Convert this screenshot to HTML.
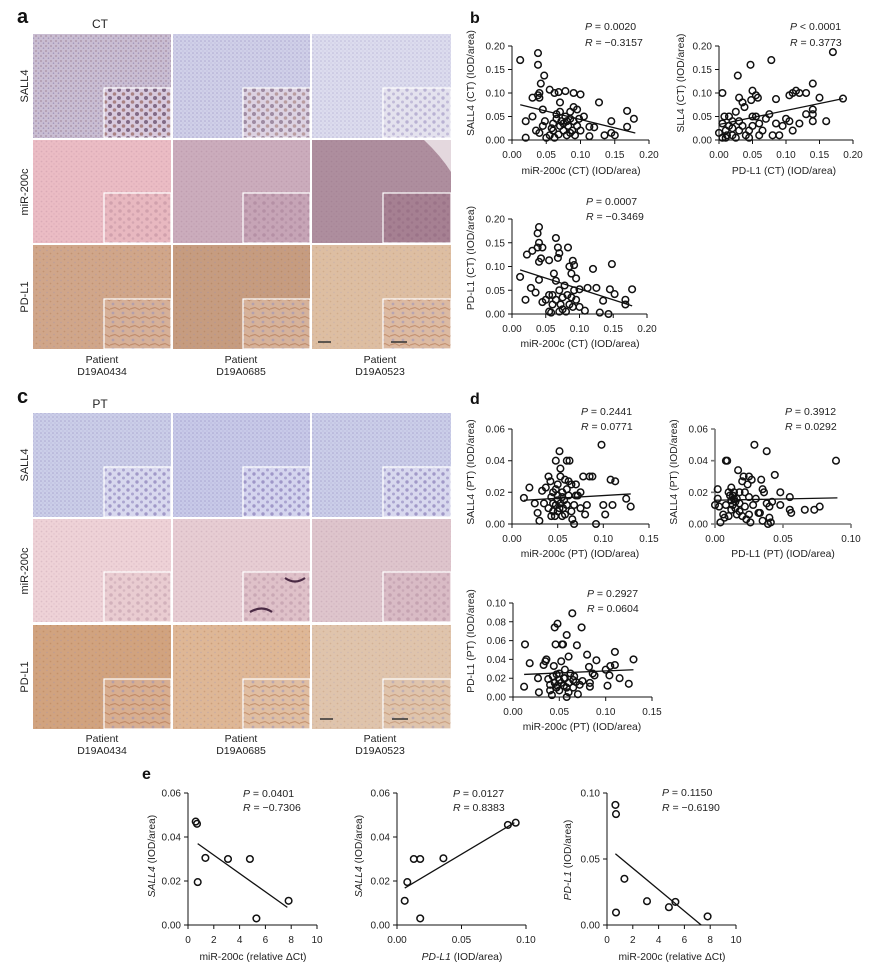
<!DOCTYPE html>
<html><head><meta charset="utf-8"><style>
html,body{margin:0;padding:0;background:#fff;}
svg{display:block;font-family:"Liberation Sans",Arial,sans-serif;}
.t{font-size:10px;fill:#222;}
.ti{font-size:10.3px;fill:#222;}
.pr{font-size:10.5px;fill:#222;}
.ax{fill:none;stroke:#111;stroke-width:1;}
.cell{stroke:none;}
.ins{stroke:#fff;stroke-width:1.2;}
</style></head><body>
<svg id="s" width="880" height="973" viewBox="0 0 880 973" xmlns="http://www.w3.org/2000/svg">
<defs>
<pattern id="pS" width="4" height="4" patternUnits="userSpaceOnUse"><circle cx="1" cy="1" r="0.8" fill="#5e4e96" opacity="0.3"/><circle cx="3" cy="3" r="0.6" fill="#5e4e96" opacity="0.2"/></pattern>
<pattern id="pSb" width="5" height="5" patternUnits="userSpaceOnUse"><circle cx="1" cy="1" r="0.9" fill="#6a3e4e" opacity="0.35"/><circle cx="3.5" cy="3.2" r="0.8" fill="#4e3e86" opacity="0.3"/></pattern>
<pattern id="pSi" width="9" height="8" patternUnits="userSpaceOnUse"><circle cx="2" cy="2" r="1.7" fill="#6a5aa2" opacity="0.5"/><circle cx="6.5" cy="6" r="1.5" fill="#6a5aa2" opacity="0.4"/></pattern>
<pattern id="pSib" width="9" height="8" patternUnits="userSpaceOnUse"><circle cx="2" cy="2" r="2" fill="#4a2a4a" opacity="0.6"/><circle cx="6.5" cy="6" r="1.8" fill="#7a3a2a" opacity="0.5"/></pattern>
<pattern id="pB" width="7" height="6" patternUnits="userSpaceOnUse"><circle cx="1.5" cy="1.5" r="0.9" fill="#9a5a2a" opacity="0.25"/><circle cx="5" cy="4.5" r="0.7" fill="#8888c0" opacity="0.3"/></pattern>
<pattern id="pBi" width="10" height="9" patternUnits="userSpaceOnUse"><path d="M0 3 L5 1.5 L10 4" stroke="#9a4e1e" stroke-width="1.2" fill="none" opacity="0.35"/><circle cx="3" cy="7" r="1.4" fill="#8a8ac4" opacity="0.45"/></pattern>
<pattern id="pM" width="5" height="5" patternUnits="userSpaceOnUse"><circle cx="1.5" cy="1.5" r="0.9" fill="#7a4a6a" opacity="0.15"/><circle cx="4" cy="4" r="0.7" fill="#7a4a6a" opacity="0.12"/></pattern>
<pattern id="pMi" width="9" height="8" patternUnits="userSpaceOnUse"><circle cx="3" cy="3" r="1.8" fill="#6a3a5a" opacity="0.18"/><circle cx="7" cy="6.5" r="1.3" fill="#6a3a5a" opacity="0.15"/></pattern>
</defs>

<!-- Panel letters -->
<text x="17" y="23" style="font-size:20px;font-weight:bold;fill:#111">a</text>
<text x="470" y="23" style="font-size:16px;font-weight:bold;fill:#111">b</text>
<text x="17" y="403" style="font-size:20px;font-weight:bold;fill:#111">c</text>
<text x="470" y="404" style="font-size:16px;font-weight:bold;fill:#111">d</text>
<text x="142" y="779" style="font-size:16px;font-weight:bold;fill:#111">e</text>

<text x="100" y="28" text-anchor="middle" style="font-size:12px;fill:#222">CT</text>
<text x="100" y="408" text-anchor="middle" style="font-size:12px;fill:#222">PT</text>

<!-- CT grid -->
<g>
<rect class="cell" x="33" y="34" width="138" height="104" fill="#c9bdd2"/><rect x="33" y="34" width="138" height="104" fill="url(#pSb)"/>
<rect class="ins" x="104" y="88" width="67" height="50" fill="#d8cade"/><rect x="104.6" y="88.6" width="66" height="49" fill="url(#pSib)"/>
<rect class="cell" x="173" y="34" width="137" height="104" fill="#d0d0e8"/><rect x="173" y="34" width="137" height="104" fill="url(#pS)"/>
<rect class="ins" x="243" y="88" width="67" height="50" fill="#dcd2e2"/><rect x="243.6" y="88.6" width="66" height="49" fill="url(#pSib)" opacity="0.7"/>
<rect class="cell" x="312" y="34" width="139" height="104" fill="#dcdcee"/><rect x="312" y="34" width="139" height="104" fill="url(#pS)" opacity="0.8"/>
<rect class="ins" x="383" y="88" width="68" height="50" fill="#e4e2ee"/><rect x="383.6" y="88.6" width="67" height="49" fill="url(#pSi)" opacity="0.7"/>

<rect class="cell" x="33" y="140" width="138" height="103" fill="#ebbcc4"/><rect x="33" y="140" width="138" height="103" fill="url(#pM)"/>
<rect class="ins" x="104" y="193" width="67" height="50" fill="#e8b8c0"/><rect x="104.6" y="193.6" width="66" height="49" fill="url(#pMi)"/>
<rect class="cell" x="173" y="140" width="137" height="103" fill="#cbacbc"/><rect x="173" y="140" width="137" height="103" fill="url(#pM)"/>
<rect class="ins" x="243" y="193" width="67" height="50" fill="#c6a4b6"/><rect x="243.6" y="193.6" width="66" height="49" fill="url(#pMi)"/>
<rect class="cell" x="312" y="140" width="139" height="103" fill="#ae8e9e"/><rect x="312" y="140" width="139" height="103" fill="url(#pM)"/>
<path d="M424 140 L451 140 L451 172 Q441 156 424 140Z" fill="#e4d8de"/>
<rect class="ins" x="383" y="193" width="68" height="50" fill="#a68092"/><rect x="383.6" y="193.6" width="67" height="49" fill="url(#pMi)"/>

<rect class="cell" x="33" y="245" width="138" height="104" fill="#d0a68a"/><rect x="33" y="245" width="138" height="104" fill="url(#pB)"/>
<rect class="ins" x="104" y="299" width="67" height="50" fill="#d6b098"/><rect x="104.6" y="299.6" width="66" height="49" fill="url(#pBi)"/>
<rect class="cell" x="173" y="245" width="137" height="104" fill="#c69c80"/><rect x="173" y="245" width="137" height="104" fill="url(#pB)"/>
<rect class="ins" x="243" y="299" width="67" height="50" fill="#d6b29a"/><rect x="243.6" y="299.6" width="66" height="49" fill="url(#pBi)"/>
<rect class="cell" x="312" y="245" width="139" height="104" fill="#ddbea2"/><rect x="312" y="245" width="139" height="104" fill="url(#pB)" opacity="0.7"/>
<rect class="ins" x="383" y="299" width="68" height="50" fill="#dcbaa2"/><rect x="383.6" y="299.6" width="67" height="49" fill="url(#pBi)"/>
<path d="M318 342H331 M391 342H407" stroke="#333" stroke-width="1.6"/>
</g>

<!-- PT grid -->
<g>
<rect class="cell" x="33" y="413" width="138" height="104" fill="#cbcee8"/><rect x="33" y="413" width="138" height="104" fill="url(#pS)"/>
<rect class="ins" x="104" y="467" width="67" height="50" fill="#d8d8ee"/><rect x="104.6" y="467.6" width="66" height="49" fill="url(#pSi)"/>
<rect class="cell" x="173" y="413" width="137" height="104" fill="#c8cae8"/><rect x="173" y="413" width="137" height="104" fill="url(#pS)"/>
<rect class="ins" x="243" y="467" width="67" height="50" fill="#d4d4ee"/><rect x="243.6" y="467.6" width="66" height="49" fill="url(#pSi)"/>
<rect class="cell" x="312" y="413" width="139" height="104" fill="#cbcee9"/><rect x="312" y="413" width="139" height="104" fill="url(#pS)"/>
<rect class="ins" x="383" y="467" width="68" height="50" fill="#d8d8ee"/><rect x="383.6" y="467.6" width="67" height="49" fill="url(#pSi)"/>

<rect class="cell" x="33" y="519" width="138" height="103" fill="#eed2d7"/><rect x="33" y="519" width="138" height="103" fill="url(#pM)"/>
<rect class="ins" x="104" y="572" width="67" height="50" fill="#e9ccd1"/><rect x="104.6" y="572.6" width="66" height="49" fill="url(#pMi)"/>
<rect class="cell" x="173" y="519" width="137" height="103" fill="#e7cdd3"/><rect x="173" y="519" width="137" height="103" fill="url(#pM)"/>
<rect class="ins" x="243" y="572" width="67" height="50" fill="#dfc1c9"/><rect x="243.6" y="572.6" width="66" height="49" fill="url(#pMi)"/>
<path d="M250 612 Q262 605 272 612 M285 578 Q295 585 305 578" stroke="#4a2a44" stroke-width="2.2" fill="none"/>
<rect class="cell" x="312" y="519" width="139" height="103" fill="#dec5cc"/><rect x="312" y="519" width="139" height="103" fill="url(#pM)"/>
<rect class="ins" x="383" y="572" width="68" height="50" fill="#d9bbc5"/><rect x="383.6" y="572.6" width="67" height="49" fill="url(#pMi)"/>

<rect class="cell" x="33" y="625" width="138" height="104" fill="#d1a37f"/><rect x="33" y="625" width="138" height="104" fill="url(#pB)"/>
<rect class="ins" x="104" y="679" width="67" height="50" fill="#d8ae90"/><rect x="104.6" y="679.6" width="66" height="49" fill="url(#pBi)"/>
<rect class="cell" x="173" y="625" width="137" height="104" fill="#deb796"/><rect x="173" y="625" width="137" height="104" fill="url(#pB)"/>
<rect class="ins" x="243" y="679" width="67" height="50" fill="#e0bea2"/><rect x="243.6" y="679.6" width="66" height="49" fill="url(#pBi)"/>
<rect class="cell" x="312" y="625" width="139" height="104" fill="#dfc4ac"/><rect x="312" y="625" width="139" height="104" fill="url(#pB)" opacity="0.7"/>
<rect class="ins" x="383" y="679" width="68" height="50" fill="#dfc4ac"/><rect x="383.6" y="679.6" width="67" height="49" fill="url(#pBi)" opacity="0.8"/>
<path d="M320 719H333 M392 719H408" stroke="#333" stroke-width="1.6"/>
</g>

<!-- Row labels -->
<g style="font-size:11px;fill:#222" text-anchor="middle">
<text transform="translate(28,86) rotate(-90)">SALL4</text>
<text transform="translate(28,192) rotate(-90)">miR-200c</text>
<text transform="translate(28,297) rotate(-90)">PD-L1</text>
<text transform="translate(28,465) rotate(-90)">SALL4</text>
<text transform="translate(28,571) rotate(-90)">miR-200c</text>
<text transform="translate(28,677) rotate(-90)">PD-L1</text>
</g>
<g style="font-size:10.5px;fill:#222" text-anchor="middle">
<text x="102" y="363">Patient</text><text x="102" y="375">D19A0434</text>
<text x="241" y="363">Patient</text><text x="241" y="375">D19A0685</text>
<text x="380" y="363">Patient</text><text x="380" y="375">D19A0523</text>
<text x="102" y="742">Patient</text><text x="102" y="754">D19A0434</text>
<text x="241" y="742">Patient</text><text x="241" y="754">D19A0685</text>
<text x="380" y="742">Patient</text><text x="380" y="754">D19A0523</text>
</g>

<!-- Axes -->
<path class="ax" d="M512 46V140H649 M508 140H512 M508 116.5H512 M508 93H512 M508 69.5H512 M508 46H512 M512 140V144 M546.25 140V144 M580.5 140V144 M614.75 140V144 M649 140V144"/>
<path class="ax" d="M719 46V140H853 M715 140H719 M715 116.5H719 M715 93H719 M715 69.5H719 M715 46H719 M719 140V144 M752.5 140V144 M786 140V144 M819.5 140V144 M853 140V144"/>
<path class="ax" d="M512 219V314H647 M508 314H512 M508 290.25H512 M508 266.5H512 M508 242.75H512 M508 219H512 M512 314V318 M545.75 314V318 M579.5 314V318 M613.25 314V318 M647 314V318"/>
<path class="ax" d="M512 429V524H649 M508 524H512 M508 492.3H512 M508 460.7H512 M508 429H512 M512 524V528 M557.7 524V528 M603.3 524V528 M649 524V528"/>
<path class="ax" style="stroke:#777;stroke-width:1.6" d="M715 429V524H851 M711 524H715 M711 492.3H715 M711 460.7H715 M711 429H715 M715 524V528 M783 524V528 M851 524V528"/>
<path class="ax" d="M513 603V697H652 M509 697H513 M509 678.2H513 M509 659.4H513 M509 640.6H513 M509 621.8H513 M509 603H513 M513 697V701 M559.3 697V701 M605.7 697V701 M652 697V701"/>
<path class="ax" d="M188 793V925H317 M184 925H188 M184 881H188 M184 837H188 M184 793H188 M188 925V929 M213.8 925V929 M239.6 925V929 M265.4 925V929 M291.2 925V929 M317 925V929"/>
<path class="ax" d="M397 793V925H526 M393 925H397 M393 881H397 M393 837H397 M393 793H397 M397 925V929 M461.5 925V929 M526 925V929"/>
<path class="ax" d="M607 793V925H736 M603 925H607 M603 859H607 M603 793H607 M607 925V929 M632.8 925V929 M658.6 925V929 M684.4 925V929 M710.2 925V929 M736 925V929"/>

<!-- Tick labels -->
<g class="t" text-anchor="end">
<text x="505" y="143.5">0.00</text><text x="505" y="120">0.05</text><text x="505" y="96.5">0.10</text><text x="505" y="73">0.15</text><text x="505" y="49.5">0.20</text>
<text x="712" y="143.5">0.00</text><text x="712" y="120">0.05</text><text x="712" y="96.5">0.10</text><text x="712" y="73">0.15</text><text x="712" y="49.5">0.20</text>
<text x="505" y="317.5">0.00</text><text x="505" y="293.75">0.05</text><text x="505" y="270">0.10</text><text x="505" y="246.25">0.15</text><text x="505" y="222.5">0.20</text>
<text x="505" y="527.5">0.00</text><text x="505" y="495.8">0.02</text><text x="505" y="464.2">0.04</text><text x="505" y="432.5">0.06</text>
<text x="708" y="527.5">0.00</text><text x="708" y="495.8">0.02</text><text x="708" y="464.2">0.04</text><text x="708" y="432.5">0.06</text>
<text x="506" y="700.5">0.00</text><text x="506" y="681.7">0.02</text><text x="506" y="662.9">0.04</text><text x="506" y="644.1">0.06</text><text x="506" y="625.3">0.08</text><text x="506" y="606.5">0.10</text>
<text x="181" y="928.5">0.00</text><text x="181" y="884.5">0.02</text><text x="181" y="840.5">0.04</text><text x="181" y="796.5">0.06</text>
<text x="390" y="928.5">0.00</text><text x="390" y="884.5">0.02</text><text x="390" y="840.5">0.04</text><text x="390" y="796.5">0.06</text>
<text x="600" y="928.5">0.00</text><text x="600" y="862.5">0.05</text><text x="600" y="796.5">0.10</text>
</g>
<g class="t" text-anchor="middle">
<text x="512" y="158">0.00</text><text x="546.25" y="158">0.05</text><text x="580.5" y="158">0.10</text><text x="614.75" y="158">0.15</text><text x="649" y="158">0.20</text>
<text x="719" y="158">0.00</text><text x="752.5" y="158">0.05</text><text x="786" y="158">0.10</text><text x="819.5" y="158">0.15</text><text x="853" y="158">0.20</text>
<text x="512" y="332">0.00</text><text x="545.75" y="332">0.05</text><text x="579.5" y="332">0.10</text><text x="613.25" y="332">0.15</text><text x="647" y="332">0.20</text>
<text x="512" y="542">0.00</text><text x="557.7" y="542">0.05</text><text x="603.3" y="542">0.10</text><text x="649" y="542">0.15</text>
<text x="715" y="542">0.00</text><text x="783" y="542">0.05</text><text x="851" y="542">0.10</text>
<text x="513" y="715">0.00</text><text x="559.3" y="715">0.05</text><text x="605.7" y="715">0.10</text><text x="652" y="715">0.15</text>
<text x="188" y="943">0</text><text x="213.8" y="943">2</text><text x="239.6" y="943">4</text><text x="265.4" y="943">6</text><text x="291.2" y="943">8</text><text x="317" y="943">10</text>
<text x="397" y="943">0.00</text><text x="461.5" y="943">0.05</text><text x="526" y="943">0.10</text>
<text x="607" y="943">0</text><text x="632.8" y="943">2</text><text x="658.6" y="943">4</text><text x="684.4" y="943">6</text><text x="710.2" y="943">8</text><text x="736" y="943">10</text>
</g>

<!-- Axis titles -->
<g class="ti" text-anchor="middle">
<text x="581" y="174">miR-200c (CT) (IOD/area)</text>
<text x="784" y="174">PD-L1 (CT) (IOD/area)</text>
<text x="580" y="347">miR-200c (CT) (IOD/area)</text>
<text x="580" y="557">miR-200c (PT) (IOD/area)</text>
<text x="783" y="557">PD-L1 (PT) (IOD/area)</text>
<text x="582" y="730">miR-200c (PT) (IOD/area)</text>
<text x="253" y="960">miR-200c (relative ΔCt)</text>
<text x="462" y="960"><tspan font-style="italic">PD-L1</tspan> (IOD/area)</text>
<text x="672" y="960">miR-200c (relative ΔCt)</text>
<text transform="translate(474,83) rotate(-90)">SALL4 (CT) (IOD/area)</text>
<text transform="translate(684,83) rotate(-90)">SLL4 (CT) (IOD/area)</text>
<text transform="translate(474,258) rotate(-90)">PD-L1 (CT) (IOD/area)</text>
<text transform="translate(474,472) rotate(-90)">SALL4 (PT) (IOD/area)</text>
<text transform="translate(677,472) rotate(-90)">SALL4 (PT) (IOD/area)</text>
<text transform="translate(474,641) rotate(-90)">PD-L1 (PT) (IOD/area)</text>
<text transform="translate(155,856) rotate(-90)"><tspan font-style="italic">SALL4</tspan> (IOD/area)</text>
<text transform="translate(362,856) rotate(-90)"><tspan font-style="italic">SALL4</tspan> (IOD/area)</text>
<text transform="translate(571,860) rotate(-90)"><tspan font-style="italic">PD-L1</tspan> (IOD/area)</text>
</g>

<!-- P / R -->
<g class="pr">
<text x="585" y="30"><tspan font-style="italic">P</tspan> = 0.0020</text>
<text x="585" y="46"><tspan font-style="italic">R</tspan> = −0.3157</text>
<text x="790" y="30"><tspan font-style="italic">P</tspan> &lt; 0.0001</text>
<text x="790" y="46"><tspan font-style="italic">R</tspan> = 0.3773</text>
<text x="586" y="205"><tspan font-style="italic">P</tspan> = 0.0007</text>
<text x="586" y="220"><tspan font-style="italic">R</tspan> = −0.3469</text>
<text x="581" y="415"><tspan font-style="italic">P</tspan> = 0.2441</text>
<text x="581" y="430"><tspan font-style="italic">R</tspan> = 0.0771</text>
<text x="785" y="415"><tspan font-style="italic">P</tspan> = 0.3912</text>
<text x="785" y="430"><tspan font-style="italic">R</tspan> = 0.0292</text>
<text x="587" y="597"><tspan font-style="italic">P</tspan> = 0.2927</text>
<text x="587" y="612"><tspan font-style="italic">R</tspan> = 0.0604</text>
<text x="243" y="797"><tspan font-style="italic">P</tspan> = 0.0401</text>
<text x="243" y="811"><tspan font-style="italic">R</tspan> = −0.7306</text>
<text x="453" y="797"><tspan font-style="italic">P</tspan> = 0.0127</text>
<text x="453" y="811"><tspan font-style="italic">R</tspan> = 0.8383</text>
<text x="662" y="796"><tspan font-style="italic">P</tspan> = 0.1150</text>
<text x="662" y="811"><tspan font-style="italic">R</tspan> = −0.6190</text>
</g>

<g id="plots"></g>
</svg>
<script>
(function(){
var NS="http://www.w3.org/2000/svg";
var G=document.getElementById("plots");
var P=[
{x0:512,x1:649,xm:0.2,y0:140,y1:46,ym:0.2,L:[0.012,0.075,0.18,0.015],d:[0.012,0.17,0.038,0.185,0.038,0.16,0.047,0.137,0.042,0.12,0.04,0.1,0.038,0.095,0.04,0.09,0.03,0.09,0.055,0.107,0.062,0.1,0.068,0.102,0.078,0.104,0.09,0.1,0.1,0.097,0.127,0.08,0.168,0.062,0.178,0.045,0.168,0.028,0.145,0.04,0.145,0.015,0.15,0.01,0.135,0.01,0.113,0.008,0.12,0.027,0.113,0.028,0.105,0.05,0.095,0.065,0.09,0.07,0.085,0.06,0.02,0.04,0.02,0.005,0.03,0.05,0.035,0.02,0.045,0.03,0.045,0.065,0.05,0.005,0.055,0.01,0.06,0.02,0.06,0.035,0.065,0.045,0.065,0.055,0.07,0.08,0.07,0.06,0.07,0.03,0.072,0.04,0.075,0.02,0.078,0.05,0.08,0.01,0.08,0.04,0.082,0.03,0.085,0.015,0.085,0.045,0.088,0.02,0.09,0.04,0.092,0.01,0.095,0.03,0.098,0.045,0.062,0.005,0.058,0.025,0.068,0.012,0.075,0.035,0.04,0.015,0.048,0.04,0.1,0.02]},
{x0:719,x1:853,xm:0.2,y0:140,y1:46,ym:0.2,L:[0.0,0.033,0.185,0.088],d:[0.005,0.1,0.028,0.137,0.047,0.16,0.078,0.17,0.17,0.187,0.14,0.12,0.185,0.088,0.15,0.09,0.115,0.105,0.12,0.1,0.11,0.1,0.105,0.095,0.13,0.1,0.085,0.087,0.05,0.105,0.055,0.095,0.058,0.09,0.048,0.085,0.035,0.08,0.03,0.09,0.038,0.07,0.025,0.06,0.015,0.05,0.008,0.05,0.02,0.04,0.005,0.035,0.01,0.02,0.0,0.015,0.005,0.005,0.01,0.005,0.02,0.01,0.025,0.005,0.03,0.02,0.035,0.03,0.04,0.01,0.045,0.02,0.05,0.03,0.055,0.05,0.06,0.01,0.06,0.035,0.065,0.02,0.07,0.045,0.075,0.055,0.08,0.01,0.085,0.035,0.09,0.01,0.095,0.03,0.1,0.045,0.105,0.04,0.11,0.02,0.12,0.035,0.13,0.055,0.14,0.065,0.14,0.055,0.14,0.04,0.16,0.04,0.015,0.03,0.02,0.025,0.045,0.005,0.05,0.05,0.03,0.04,0.012,0.01]},
{x0:512,x1:647,xm:0.2,y0:314,y1:219,ym:0.2,L:[0.012,0.093,0.178,0.017],d:[0.04,0.183,0.038,0.17,0.04,0.15,0.045,0.14,0.038,0.14,0.03,0.133,0.022,0.125,0.043,0.117,0.04,0.11,0.055,0.113,0.065,0.16,0.068,0.14,0.07,0.128,0.068,0.118,0.083,0.14,0.09,0.112,0.092,0.103,0.12,0.095,0.148,0.105,0.178,0.052,0.168,0.03,0.168,0.02,0.152,0.042,0.145,0.052,0.135,0.028,0.13,0.003,0.143,0.0,0.108,0.007,0.125,0.055,0.112,0.055,0.1,0.052,0.095,0.075,0.088,0.085,0.085,0.1,0.012,0.078,0.02,0.03,0.028,0.055,0.035,0.045,0.04,0.072,0.045,0.025,0.05,0.03,0.055,0.005,0.06,0.04,0.062,0.085,0.065,0.07,0.07,0.05,0.072,0.02,0.075,0.035,0.078,0.06,0.08,0.005,0.082,0.04,0.085,0.02,0.088,0.035,0.09,0.015,0.092,0.05,0.095,0.03,0.1,0.015,0.06,0.02,0.065,0.03,0.055,0.04,0.075,0.01,0.07,0.005,0.058,0.003]},
{x0:512,x1:649,xm:0.15,y0:524,y1:429,ym:0.06,L:[0.013,0.015,0.13,0.019],d:[0.013,0.0165,0.019,0.023,0.025,0.013,0.028,0.007,0.03,0.002,0.033,0.021,0.035,0.013,0.037,0.023,0.04,0.01,0.04,0.03,0.042,0.027,0.043,0.017,0.045,0.02,0.045,0.008,0.047,0.005,0.048,0.012,0.048,0.04,0.05,0.015,0.05,0.025,0.052,0.01,0.052,0.046,0.053,0.035,0.053,0.03,0.055,0.02,0.055,0.005,0.057,0.015,0.058,0.028,0.06,0.022,0.06,0.04,0.062,0.018,0.063,0.04,0.065,0.008,0.065,0.025,0.066,0.003,0.068,0.0,0.068,0.012,0.07,0.025,0.072,0.018,0.075,0.01,0.078,0.03,0.08,0.006,0.082,0.012,0.085,0.03,0.088,0.03,0.092,0.0,0.098,0.05,0.1,0.012,0.102,0.006,0.108,0.028,0.11,0.012,0.113,0.027,0.125,0.016,0.13,0.011,0.043,0.005,0.05,0.008,0.045,0.013,0.055,0.017,0.06,0.012,0.058,0.006,0.062,0.027,0.07,0.018,0.075,0.02,0.05,0.018,0.048,0.022,0.053,0.013,0.056,0.01]},
{x0:715,x1:851,xm:0.1,y0:524,y1:429,ym:0.06,L:[0.0,0.015,0.09,0.0165],d:[0.0,0.012,0.002,0.022,0.002,0.016,0.003,0.011,0.004,0.001,0.006,0.006,0.007,0.004,0.008,0.04,0.009,0.04,0.008,0.012,0.01,0.005,0.01,0.02,0.012,0.015,0.012,0.023,0.013,0.018,0.014,0.016,0.015,0.014,0.015,0.01,0.016,0.006,0.017,0.034,0.018,0.02,0.018,0.013,0.02,0.005,0.02,0.027,0.021,0.03,0.022,0.02,0.022,0.011,0.023,0.003,0.024,0.025,0.025,0.03,0.025,0.006,0.026,0.001,0.027,0.028,0.028,0.012,0.029,0.05,0.03,0.016,0.032,0.007,0.033,0.007,0.034,0.028,0.035,0.002,0.035,0.022,0.036,0.02,0.038,0.046,0.038,0.013,0.039,0.0,0.04,0.011,0.04,0.004,0.041,0.001,0.042,0.014,0.044,0.031,0.048,0.012,0.048,0.02,0.055,0.017,0.055,0.009,0.056,0.007,0.066,0.009,0.073,0.009,0.077,0.011,0.089,0.04,0.011,0.018,0.013,0.012,0.016,0.016,0.014,0.02,0.012,0.009,0.018,0.008,0.025,0.017]},
{x0:513,x1:652,xm:0.15,y0:697,y1:603,ym:0.1,L:[0.012,0.024,0.13,0.029],d:[0.012,0.011,0.013,0.056,0.018,0.036,0.027,0.02,0.028,0.005,0.033,0.034,0.035,0.038,0.036,0.04,0.038,0.019,0.04,0.007,0.04,0.013,0.042,0.002,0.043,0.022,0.044,0.033,0.045,0.074,0.046,0.056,0.047,0.024,0.048,0.078,0.048,0.012,0.05,0.018,0.05,0.007,0.052,0.038,0.053,0.056,0.054,0.056,0.055,0.012,0.056,0.029,0.056,0.02,0.058,0.066,0.058,0.0,0.06,0.015,0.06,0.043,0.062,0.025,0.064,0.089,0.065,0.01,0.066,0.022,0.068,0.016,0.069,0.055,0.07,0.003,0.072,0.013,0.074,0.074,0.075,0.017,0.08,0.045,0.082,0.032,0.083,0.015,0.083,0.011,0.086,0.025,0.088,0.023,0.09,0.039,0.1,0.029,0.102,0.012,0.104,0.023,0.105,0.033,0.11,0.034,0.11,0.048,0.115,0.02,0.125,0.014,0.13,0.04,0.045,0.015,0.05,0.025,0.055,0.02,0.058,0.01,0.06,0.005,0.065,0.018,0.047,0.01,0.052,0.015]},
{x0:188,x1:317,xm:10,y0:925,y1:793,ym:0.06,L:[0.75,0.037,7.7,0.008],d:[0.6,0.047,0.7,0.046,0.75,0.0195,1.35,0.0305,3.1,0.03,4.8,0.03,5.3,0.003,7.8,0.011]},
{x0:397,x1:526,xm:0.1,y0:925,y1:793,ym:0.06,L:[0.006,0.0168,0.091,0.0465],d:[0.006,0.011,0.008,0.0195,0.013,0.03,0.018,0.03,0.018,0.003,0.036,0.0303,0.086,0.0455,0.092,0.0465]},
{x0:607,x1:736,xm:10,y0:925,y1:793,ym:0.1,L:[0.65,0.054,7.3,0.0],d:[0.65,0.091,0.7,0.084,0.7,0.0095,1.35,0.035,3.1,0.018,4.8,0.0135,5.3,0.0175,7.8,0.0065]}
];
P.forEach(function(p){
  function sx(v){return p.x0+v/p.xm*(p.x1-p.x0);}
  function sy(v){return p.y0-v/p.ym*(p.y0-p.y1);}
  var g=document.createElementNS(NS,"g");
  g.setAttribute("fill","none");g.setAttribute("stroke","#111");
  for(var i=0;i<p.d.length;i+=2){
    var c=document.createElementNS(NS,"circle");
    c.setAttribute("cx",sx(p.d[i]).toFixed(1));
    c.setAttribute("cy",sy(p.d[i+1]).toFixed(1));
    c.setAttribute("r","3.3");
    c.setAttribute("stroke-width","1.5");
    g.appendChild(c);
  }
  var l=document.createElementNS(NS,"line");
  l.setAttribute("x1",sx(p.L[0]));l.setAttribute("y1",sy(p.L[1]));
  l.setAttribute("x2",sx(p.L[2]));l.setAttribute("y2",sy(p.L[3]));
  l.setAttribute("stroke-width","1.3");
  g.appendChild(l);
  G.appendChild(g);
});
})();
</script>
</body></html>
